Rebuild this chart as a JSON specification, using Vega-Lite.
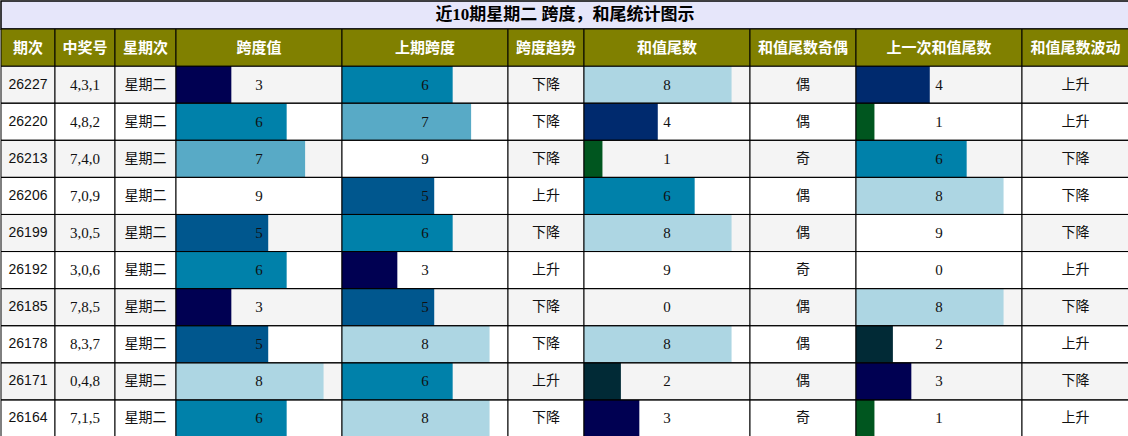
{
  "$schema": "https://vega.github.io/schema/vega-lite/v6.json",
  "padding": 0,
  "background": "white",
  "bounds": "flush",
  "spacing": 0,
  "config": {
    "view": {"stroke": null},
    "concat": {"spacing": 0},
    "text": {"font": "Liberation Serif, Noto Sans CJK SC", "fontSize": 15, "color": "#111111"}
  },
  "datasets": {
    "rows": [
      {"期次": "26227", "中奖号": "4,3,1", "星期次": "星期二", "跨度值": 3, "上期跨度": 6, "跨度趋势": "下降", "和值尾数": 8, "和值尾数奇偶": "偶", "上一次和值尾数": 4, "和值尾数波动": "上升"},
      {"期次": "26220", "中奖号": "4,8,2", "星期次": "星期二", "跨度值": 6, "上期跨度": 7, "跨度趋势": "下降", "和值尾数": 4, "和值尾数奇偶": "偶", "上一次和值尾数": 1, "和值尾数波动": "上升"},
      {"期次": "26213", "中奖号": "7,4,0", "星期次": "星期二", "跨度值": 7, "上期跨度": 9, "跨度趋势": "下降", "和值尾数": 1, "和值尾数奇偶": "奇", "上一次和值尾数": 6, "和值尾数波动": "下降"},
      {"期次": "26206", "中奖号": "7,0,9", "星期次": "星期二", "跨度值": 9, "上期跨度": 5, "跨度趋势": "上升", "和值尾数": 6, "和值尾数奇偶": "偶", "上一次和值尾数": 8, "和值尾数波动": "下降"},
      {"期次": "26199", "中奖号": "3,0,5", "星期次": "星期二", "跨度值": 5, "上期跨度": 6, "跨度趋势": "下降", "和值尾数": 8, "和值尾数奇偶": "偶", "上一次和值尾数": 9, "和值尾数波动": "下降"},
      {"期次": "26192", "中奖号": "3,0,6", "星期次": "星期二", "跨度值": 6, "上期跨度": 3, "跨度趋势": "上升", "和值尾数": 9, "和值尾数奇偶": "奇", "上一次和值尾数": 0, "和值尾数波动": "上升"},
      {"期次": "26185", "中奖号": "7,8,5", "星期次": "星期二", "跨度值": 3, "上期跨度": 5, "跨度趋势": "下降", "和值尾数": 0, "和值尾数奇偶": "偶", "上一次和值尾数": 8, "和值尾数波动": "下降"},
      {"期次": "26178", "中奖号": "8,3,7", "星期次": "星期二", "跨度值": 5, "上期跨度": 8, "跨度趋势": "下降", "和值尾数": 8, "和值尾数奇偶": "偶", "上一次和值尾数": 2, "和值尾数波动": "上升"},
      {"期次": "26171", "中奖号": "0,4,8", "星期次": "星期二", "跨度值": 8, "上期跨度": 6, "跨度趋势": "上升", "和值尾数": 2, "和值尾数奇偶": "偶", "上一次和值尾数": 3, "和值尾数波动": "下降"},
      {"期次": "26164", "中奖号": "7,1,5", "星期次": "星期二", "跨度值": 6, "上期跨度": 8, "跨度趋势": "下降", "和值尾数": 3, "和值尾数奇偶": "奇", "上一次和值尾数": 1, "和值尾数波动": "上升"}
    ]
  },
  "vconcat": [
    {
      "width": 1128,
      "height": 28,
      "view": {"fill": "#E6E6FA", "stroke": "black", "strokeWidth": 1.5},
      "data": {"values": [{"t": "近10期星期二 跨度，和尾统计图示"}]},
      "mark": {"type": "text", "fontWeight": "bold", "fontSize": 17, "color": "black"},
      "encoding": {"text": {"field": "t"}}
    },
    {
      "spacing": 0,
      "bounds": "flush",
      "hconcat": [
        {
          "width": 54, "height": 408,
          "data": {"name": "rows"},
          "encoding": {"y": {"field": "期次", "type": "nominal", "sort": null, "axis": null, "scale": {"domain": ["表头", "26227", "26220", "26213", "26206", "26199", "26192", "26185", "26178", "26171", "26164"], "paddingInner": 0, "paddingOuter": 0}}},
          "layer": [
            {"mark": {"type": "rect"}, "encoding": {"fill": {"field": "期次", "type": "nominal", "legend": null, "scale": {"domain": ["26227", "26220", "26213", "26206", "26199", "26192", "26185", "26178", "26171", "26164"], "range": ["#F4F4F4", "#FFFFFF", "#F4F4F4", "#FFFFFF", "#F4F4F4", "#FFFFFF", "#F4F4F4", "#FFFFFF", "#F4F4F4", "#FFFFFF"]}}}},
            {"mark": {"type": "text", "font": "Liberation Sans", "fontSize": 14}, "encoding": {"text": {"field": "期次"}}},
            {"mark": {"type": "rect", "filled": false, "stroke": "black", "strokeWidth": 1}},
            {"data": {"values": [{"h": "期次"}]}, "mark": {"type": "rect", "fill": "#808000", "stroke": "black", "strokeWidth": 1}, "encoding": {"y": {"datum": "表头"}}},
            {"data": {"values": [{"h": "期次"}]}, "mark": {"type": "text", "color": "white", "fontWeight": "bold", "fontSize": 15, "font": "Noto Sans CJK SC"}, "encoding": {"y": {"datum": "表头"}, "text": {"field": "h"}}}
          ]
        },
        {
          "width": 60, "height": 408,
          "data": {"name": "rows"},
          "encoding": {"y": {"field": "期次", "type": "nominal", "sort": null, "axis": null, "scale": {"domain": ["表头", "26227", "26220", "26213", "26206", "26199", "26192", "26185", "26178", "26171", "26164"], "paddingInner": 0, "paddingOuter": 0}}},
          "layer": [
            {"mark": {"type": "rect"}, "encoding": {"fill": {"field": "期次", "type": "nominal", "legend": null, "scale": {"domain": ["26227", "26220", "26213", "26206", "26199", "26192", "26185", "26178", "26171", "26164"], "range": ["#F4F4F4", "#FFFFFF", "#F4F4F4", "#FFFFFF", "#F4F4F4", "#FFFFFF", "#F4F4F4", "#FFFFFF", "#F4F4F4", "#FFFFFF"]}}}},
            {"mark": {"type": "text"}, "encoding": {"text": {"field": "中奖号"}}},
            {"mark": {"type": "rect", "filled": false, "stroke": "black", "strokeWidth": 1}},
            {"data": {"values": [{"h": "中奖号"}]}, "mark": {"type": "rect", "fill": "#808000", "stroke": "black", "strokeWidth": 1}, "encoding": {"y": {"datum": "表头"}}},
            {"data": {"values": [{"h": "中奖号"}]}, "mark": {"type": "text", "color": "white", "fontWeight": "bold", "fontSize": 15, "font": "Noto Sans CJK SC"}, "encoding": {"y": {"datum": "表头"}, "text": {"field": "h"}}}
          ]
        },
        {
          "width": 61, "height": 408,
          "data": {"name": "rows"},
          "encoding": {"y": {"field": "期次", "type": "nominal", "sort": null, "axis": null, "scale": {"domain": ["表头", "26227", "26220", "26213", "26206", "26199", "26192", "26185", "26178", "26171", "26164"], "paddingInner": 0, "paddingOuter": 0}}},
          "layer": [
            {"mark": {"type": "rect"}, "encoding": {"fill": {"field": "期次", "type": "nominal", "legend": null, "scale": {"domain": ["26227", "26220", "26213", "26206", "26199", "26192", "26185", "26178", "26171", "26164"], "range": ["#F4F4F4", "#FFFFFF", "#F4F4F4", "#FFFFFF", "#F4F4F4", "#FFFFFF", "#F4F4F4", "#FFFFFF", "#F4F4F4", "#FFFFFF"]}}}},
            {"mark": {"type": "text", "font": "Noto Sans CJK SC", "fontSize": 14}, "encoding": {"text": {"field": "星期次"}}},
            {"mark": {"type": "rect", "filled": false, "stroke": "black", "strokeWidth": 1}},
            {"data": {"values": [{"h": "星期次"}]}, "mark": {"type": "rect", "fill": "#808000", "stroke": "black", "strokeWidth": 1}, "encoding": {"y": {"datum": "表头"}}},
            {"data": {"values": [{"h": "星期次"}]}, "mark": {"type": "text", "color": "white", "fontWeight": "bold", "fontSize": 15, "font": "Noto Sans CJK SC"}, "encoding": {"y": {"datum": "表头"}, "text": {"field": "h"}}}
          ]
        },
        {
          "width": 166, "height": 408,
          "data": {"name": "rows"},
          "encoding": {"y": {"field": "期次", "type": "nominal", "sort": null, "axis": null, "scale": {"domain": ["表头", "26227", "26220", "26213", "26206", "26199", "26192", "26185", "26178", "26171", "26164"], "paddingInner": 0, "paddingOuter": 0}}},
          "layer": [
            {"mark": {"type": "rect"}, "encoding": {"fill": {"field": "期次", "type": "nominal", "legend": null, "scale": {"domain": ["26227", "26220", "26213", "26206", "26199", "26192", "26185", "26178", "26171", "26164"], "range": ["#F4F4F4", "#FFFFFF", "#F4F4F4", "#FFFFFF", "#F4F4F4", "#FFFFFF", "#F4F4F4", "#FFFFFF", "#F4F4F4", "#FFFFFF"]}}}},
            {"mark": {"type": "bar"}, "encoding": {
              "x": {"field": "跨度值", "type": "quantitative", "axis": null, "scale": {"domain": [0, 9], "nice": false}},
              "color": {"field": "跨度值", "type": "ordinal", "legend": null, "scale": {"domain": [0, 1, 2, 3, 4, 5, 6, 7, 8, 9], "range": ["#FFFFFF", "#00561F", "#012A36", "#000052", "#002A6E", "#00578E", "#0081AA", "#58AAC6", "#ADD6E3", "#FFFFFF"]}}}},
            {"mark": {"type": "text"}, "encoding": {"text": {"field": "跨度值"}}},
            {"mark": {"type": "rect", "filled": false, "stroke": "black", "strokeWidth": 1}},
            {"data": {"values": [{"h": "跨度值"}]}, "mark": {"type": "rect", "fill": "#808000", "stroke": "black", "strokeWidth": 1}, "encoding": {"y": {"datum": "表头"}}},
            {"data": {"values": [{"h": "跨度值"}]}, "mark": {"type": "text", "color": "white", "fontWeight": "bold", "fontSize": 15, "font": "Noto Sans CJK SC"}, "encoding": {"y": {"datum": "表头"}, "text": {"field": "h"}}}
          ]
        },
        {
          "width": 166, "height": 408,
          "data": {"name": "rows"},
          "encoding": {"y": {"field": "期次", "type": "nominal", "sort": null, "axis": null, "scale": {"domain": ["表头", "26227", "26220", "26213", "26206", "26199", "26192", "26185", "26178", "26171", "26164"], "paddingInner": 0, "paddingOuter": 0}}},
          "layer": [
            {"mark": {"type": "rect"}, "encoding": {"fill": {"field": "期次", "type": "nominal", "legend": null, "scale": {"domain": ["26227", "26220", "26213", "26206", "26199", "26192", "26185", "26178", "26171", "26164"], "range": ["#F4F4F4", "#FFFFFF", "#F4F4F4", "#FFFFFF", "#F4F4F4", "#FFFFFF", "#F4F4F4", "#FFFFFF", "#F4F4F4", "#FFFFFF"]}}}},
            {"mark": {"type": "bar"}, "encoding": {
              "x": {"field": "上期跨度", "type": "quantitative", "axis": null, "scale": {"domain": [0, 9], "nice": false}},
              "color": {"field": "上期跨度", "type": "ordinal", "legend": null, "scale": {"domain": [0, 1, 2, 3, 4, 5, 6, 7, 8, 9], "range": ["#FFFFFF", "#00561F", "#012A36", "#000052", "#002A6E", "#00578E", "#0081AA", "#58AAC6", "#ADD6E3", "#FFFFFF"]}}}},
            {"mark": {"type": "text"}, "encoding": {"text": {"field": "上期跨度"}}},
            {"mark": {"type": "rect", "filled": false, "stroke": "black", "strokeWidth": 1}},
            {"data": {"values": [{"h": "上期跨度"}]}, "mark": {"type": "rect", "fill": "#808000", "stroke": "black", "strokeWidth": 1}, "encoding": {"y": {"datum": "表头"}}},
            {"data": {"values": [{"h": "上期跨度"}]}, "mark": {"type": "text", "color": "white", "fontWeight": "bold", "fontSize": 15, "font": "Noto Sans CJK SC"}, "encoding": {"y": {"datum": "表头"}, "text": {"field": "h"}}}
          ]
        },
        {
          "width": 76, "height": 408,
          "data": {"name": "rows"},
          "encoding": {"y": {"field": "期次", "type": "nominal", "sort": null, "axis": null, "scale": {"domain": ["表头", "26227", "26220", "26213", "26206", "26199", "26192", "26185", "26178", "26171", "26164"], "paddingInner": 0, "paddingOuter": 0}}},
          "layer": [
            {"mark": {"type": "rect"}, "encoding": {"fill": {"field": "期次", "type": "nominal", "legend": null, "scale": {"domain": ["26227", "26220", "26213", "26206", "26199", "26192", "26185", "26178", "26171", "26164"], "range": ["#F4F4F4", "#FFFFFF", "#F4F4F4", "#FFFFFF", "#F4F4F4", "#FFFFFF", "#F4F4F4", "#FFFFFF", "#F4F4F4", "#FFFFFF"]}}}},
            {"mark": {"type": "text", "font": "Noto Sans CJK SC", "fontSize": 14}, "encoding": {"text": {"field": "跨度趋势"}}},
            {"mark": {"type": "rect", "filled": false, "stroke": "black", "strokeWidth": 1}},
            {"data": {"values": [{"h": "跨度趋势"}]}, "mark": {"type": "rect", "fill": "#808000", "stroke": "black", "strokeWidth": 1}, "encoding": {"y": {"datum": "表头"}}},
            {"data": {"values": [{"h": "跨度趋势"}]}, "mark": {"type": "text", "color": "white", "fontWeight": "bold", "fontSize": 15, "font": "Noto Sans CJK SC"}, "encoding": {"y": {"datum": "表头"}, "text": {"field": "h"}}}
          ]
        },
        {
          "width": 166, "height": 408,
          "data": {"name": "rows"},
          "encoding": {"y": {"field": "期次", "type": "nominal", "sort": null, "axis": null, "scale": {"domain": ["表头", "26227", "26220", "26213", "26206", "26199", "26192", "26185", "26178", "26171", "26164"], "paddingInner": 0, "paddingOuter": 0}}},
          "layer": [
            {"mark": {"type": "rect"}, "encoding": {"fill": {"field": "期次", "type": "nominal", "legend": null, "scale": {"domain": ["26227", "26220", "26213", "26206", "26199", "26192", "26185", "26178", "26171", "26164"], "range": ["#F4F4F4", "#FFFFFF", "#F4F4F4", "#FFFFFF", "#F4F4F4", "#FFFFFF", "#F4F4F4", "#FFFFFF", "#F4F4F4", "#FFFFFF"]}}}},
            {"mark": {"type": "bar"}, "encoding": {
              "x": {"field": "和值尾数", "type": "quantitative", "axis": null, "scale": {"domain": [0, 9], "nice": false}},
              "color": {"field": "和值尾数", "type": "ordinal", "legend": null, "scale": {"domain": [0, 1, 2, 3, 4, 5, 6, 7, 8, 9], "range": ["#FFFFFF", "#00561F", "#012A36", "#000052", "#002A6E", "#00578E", "#0081AA", "#58AAC6", "#ADD6E3", "#FFFFFF"]}}}},
            {"mark": {"type": "text"}, "encoding": {"text": {"field": "和值尾数"}}},
            {"mark": {"type": "rect", "filled": false, "stroke": "black", "strokeWidth": 1}},
            {"data": {"values": [{"h": "和值尾数"}]}, "mark": {"type": "rect", "fill": "#808000", "stroke": "black", "strokeWidth": 1}, "encoding": {"y": {"datum": "表头"}}},
            {"data": {"values": [{"h": "和值尾数"}]}, "mark": {"type": "text", "color": "white", "fontWeight": "bold", "fontSize": 15, "font": "Noto Sans CJK SC"}, "encoding": {"y": {"datum": "表头"}, "text": {"field": "h"}}}
          ]
        },
        {
          "width": 106, "height": 408,
          "data": {"name": "rows"},
          "encoding": {"y": {"field": "期次", "type": "nominal", "sort": null, "axis": null, "scale": {"domain": ["表头", "26227", "26220", "26213", "26206", "26199", "26192", "26185", "26178", "26171", "26164"], "paddingInner": 0, "paddingOuter": 0}}},
          "layer": [
            {"mark": {"type": "rect"}, "encoding": {"fill": {"field": "期次", "type": "nominal", "legend": null, "scale": {"domain": ["26227", "26220", "26213", "26206", "26199", "26192", "26185", "26178", "26171", "26164"], "range": ["#F4F4F4", "#FFFFFF", "#F4F4F4", "#FFFFFF", "#F4F4F4", "#FFFFFF", "#F4F4F4", "#FFFFFF", "#F4F4F4", "#FFFFFF"]}}}},
            {"mark": {"type": "text", "font": "Noto Sans CJK SC", "fontSize": 14}, "encoding": {"text": {"field": "和值尾数奇偶"}}},
            {"mark": {"type": "rect", "filled": false, "stroke": "black", "strokeWidth": 1}},
            {"data": {"values": [{"h": "和值尾数奇偶"}]}, "mark": {"type": "rect", "fill": "#808000", "stroke": "black", "strokeWidth": 1}, "encoding": {"y": {"datum": "表头"}}},
            {"data": {"values": [{"h": "和值尾数奇偶"}]}, "mark": {"type": "text", "color": "white", "fontWeight": "bold", "fontSize": 15, "font": "Noto Sans CJK SC"}, "encoding": {"y": {"datum": "表头"}, "text": {"field": "h"}}}
          ]
        },
        {
          "width": 166, "height": 408,
          "data": {"name": "rows"},
          "encoding": {"y": {"field": "期次", "type": "nominal", "sort": null, "axis": null, "scale": {"domain": ["表头", "26227", "26220", "26213", "26206", "26199", "26192", "26185", "26178", "26171", "26164"], "paddingInner": 0, "paddingOuter": 0}}},
          "layer": [
            {"mark": {"type": "rect"}, "encoding": {"fill": {"field": "期次", "type": "nominal", "legend": null, "scale": {"domain": ["26227", "26220", "26213", "26206", "26199", "26192", "26185", "26178", "26171", "26164"], "range": ["#F4F4F4", "#FFFFFF", "#F4F4F4", "#FFFFFF", "#F4F4F4", "#FFFFFF", "#F4F4F4", "#FFFFFF", "#F4F4F4", "#FFFFFF"]}}}},
            {"mark": {"type": "bar"}, "encoding": {
              "x": {"field": "上一次和值尾数", "type": "quantitative", "axis": null, "scale": {"domain": [0, 9], "nice": false}},
              "color": {"field": "上一次和值尾数", "type": "ordinal", "legend": null, "scale": {"domain": [0, 1, 2, 3, 4, 5, 6, 7, 8, 9], "range": ["#FFFFFF", "#00561F", "#012A36", "#000052", "#002A6E", "#00578E", "#0081AA", "#58AAC6", "#ADD6E3", "#FFFFFF"]}}}},
            {"mark": {"type": "text"}, "encoding": {"text": {"field": "上一次和值尾数"}}},
            {"mark": {"type": "rect", "filled": false, "stroke": "black", "strokeWidth": 1}},
            {"data": {"values": [{"h": "上一次和值尾数"}]}, "mark": {"type": "rect", "fill": "#808000", "stroke": "black", "strokeWidth": 1}, "encoding": {"y": {"datum": "表头"}}},
            {"data": {"values": [{"h": "上一次和值尾数"}]}, "mark": {"type": "text", "color": "white", "fontWeight": "bold", "fontSize": 15, "font": "Noto Sans CJK SC"}, "encoding": {"y": {"datum": "表头"}, "text": {"field": "h"}}}
          ]
        },
        {
          "width": 107, "height": 408,
          "data": {"name": "rows"},
          "encoding": {"y": {"field": "期次", "type": "nominal", "sort": null, "axis": null, "scale": {"domain": ["表头", "26227", "26220", "26213", "26206", "26199", "26192", "26185", "26178", "26171", "26164"], "paddingInner": 0, "paddingOuter": 0}}},
          "layer": [
            {"mark": {"type": "rect"}, "encoding": {"fill": {"field": "期次", "type": "nominal", "legend": null, "scale": {"domain": ["26227", "26220", "26213", "26206", "26199", "26192", "26185", "26178", "26171", "26164"], "range": ["#F4F4F4", "#FFFFFF", "#F4F4F4", "#FFFFFF", "#F4F4F4", "#FFFFFF", "#F4F4F4", "#FFFFFF", "#F4F4F4", "#FFFFFF"]}}}},
            {"mark": {"type": "text", "font": "Noto Sans CJK SC", "fontSize": 14}, "encoding": {"text": {"field": "和值尾数波动"}}},
            {"mark": {"type": "rect", "filled": false, "stroke": "black", "strokeWidth": 1}},
            {"data": {"values": [{"h": "和值尾数波动"}]}, "mark": {"type": "rect", "fill": "#808000", "stroke": "black", "strokeWidth": 1}, "encoding": {"y": {"datum": "表头"}}},
            {"data": {"values": [{"h": "和值尾数波动"}]}, "mark": {"type": "text", "color": "white", "fontWeight": "bold", "fontSize": 15, "font": "Noto Sans CJK SC"}, "encoding": {"y": {"datum": "表头"}, "text": {"field": "h"}}}
          ]
        }
      ]
    }
  ]
}
